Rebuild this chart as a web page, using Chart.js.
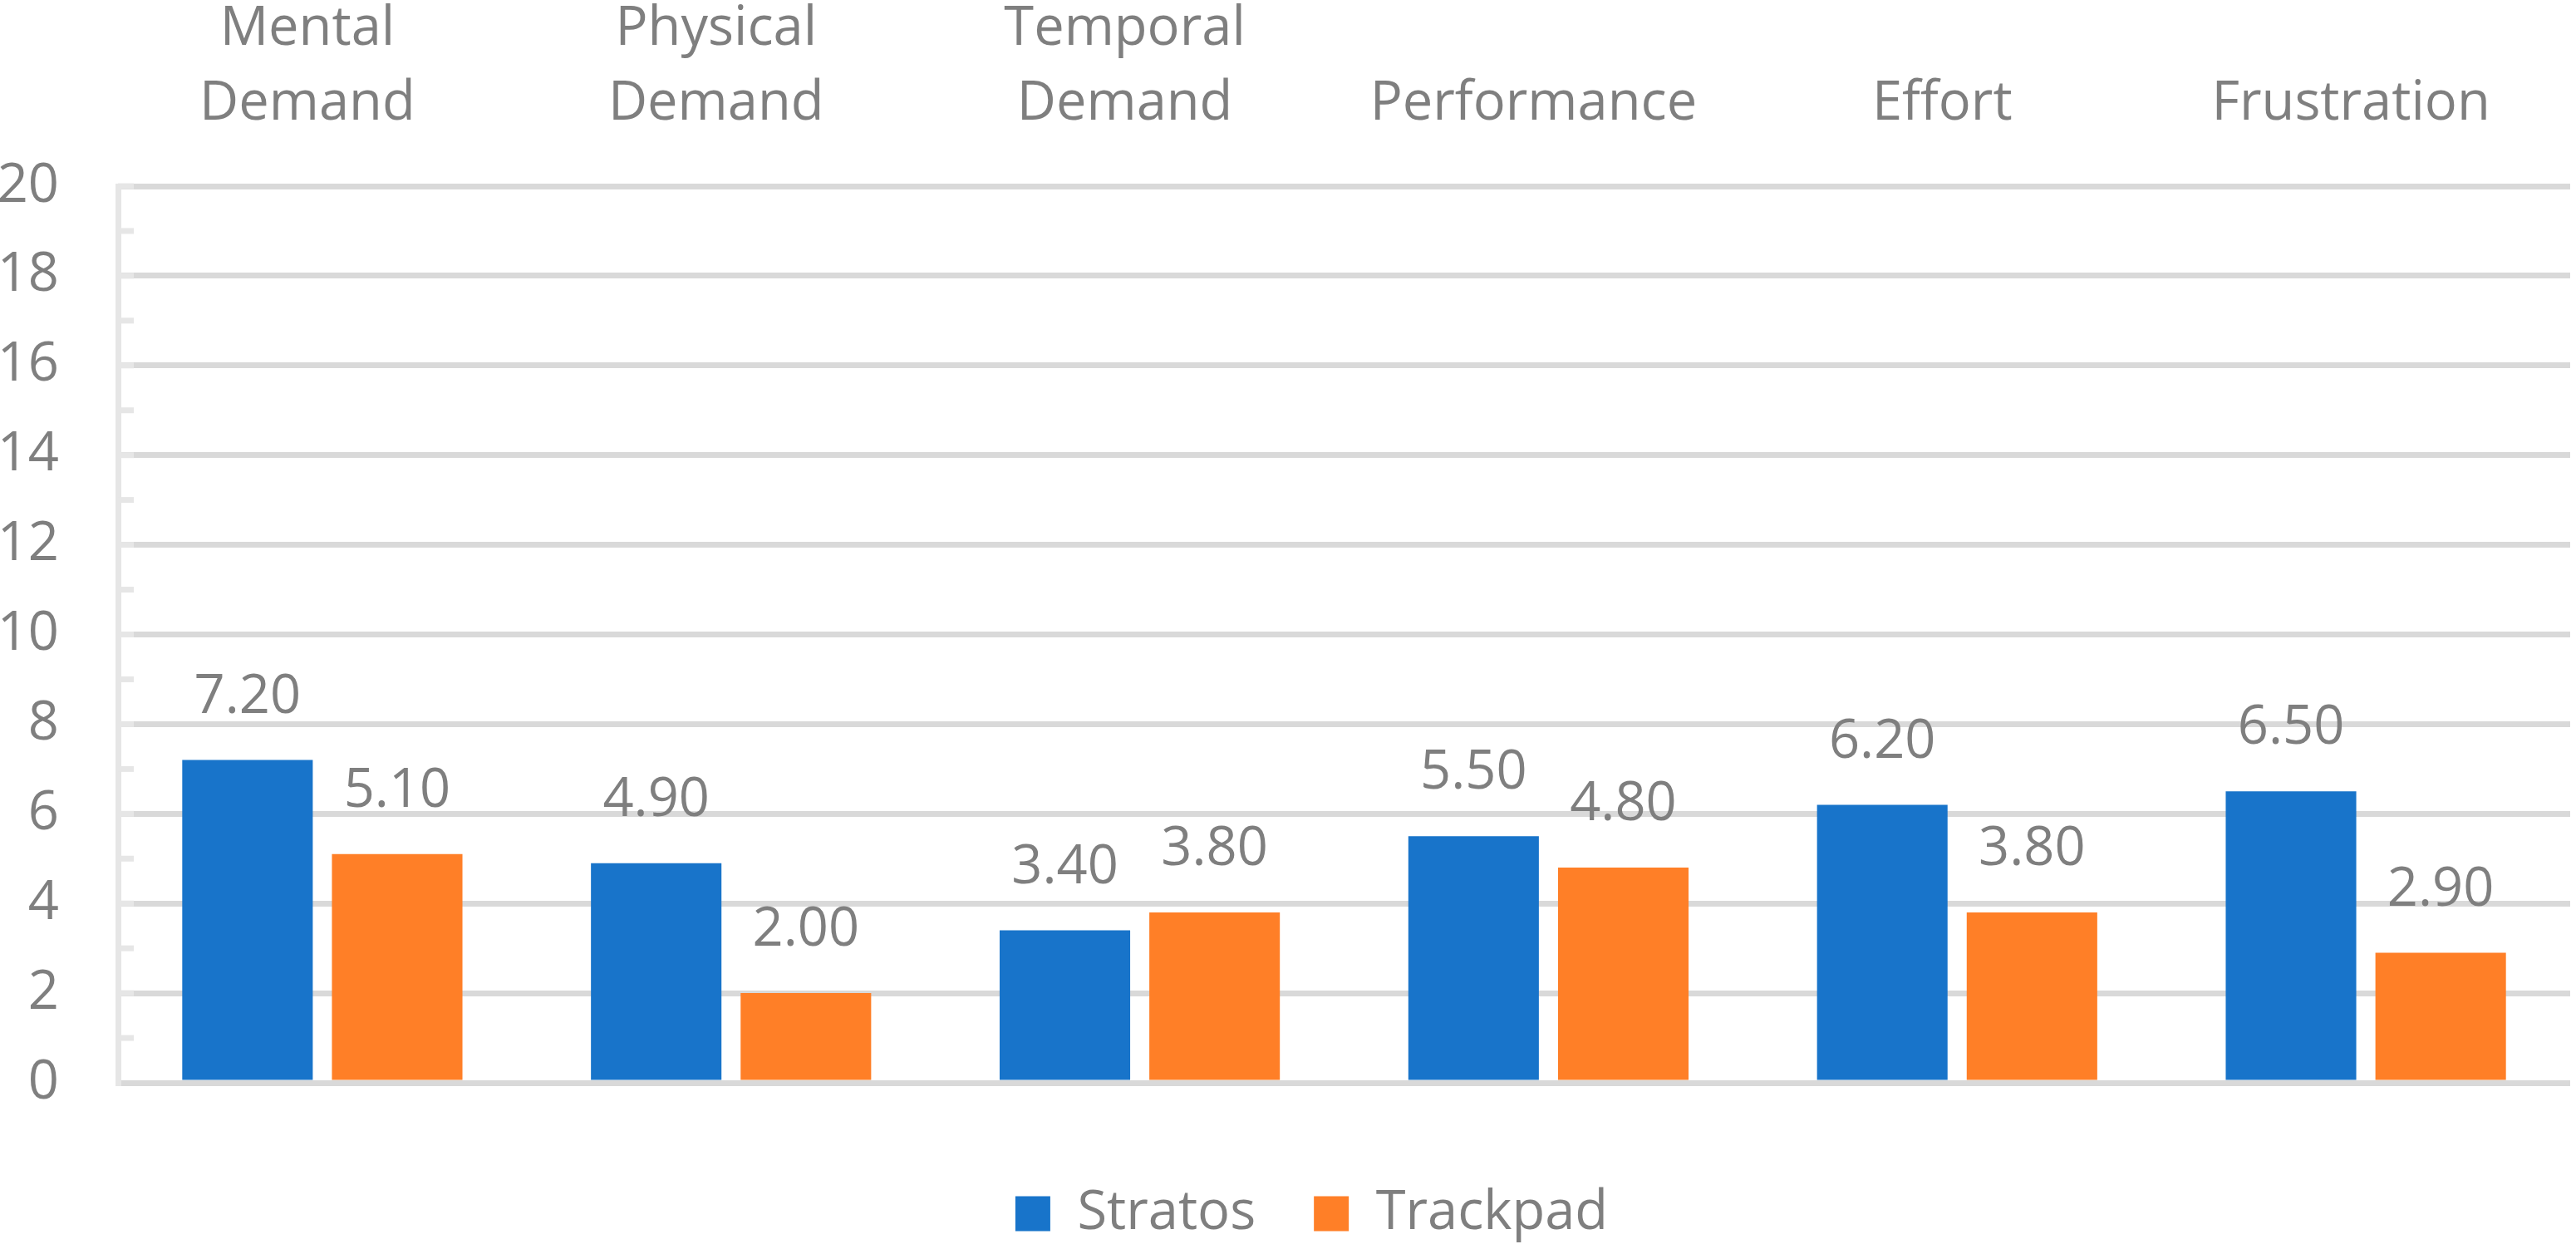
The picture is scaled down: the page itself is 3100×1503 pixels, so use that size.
<!DOCTYPE html>
<html>
<head>
<meta charset="utf-8">
<script src="https://cdn.jsdelivr.net/npm/chart.js@4.4.1/dist/chart.umd.min.js"></script>
<style>
  html, body { margin: 0; padding: 0; background: #ffffff; }
  #wrap { width: 3100px; height: 1503px; position: relative; }
</style>
</head>
<body>
<div id="wrap"><canvas id="barChart"></canvas></div>
<script>
// chart data
const categories = [['Mental', 'Demand'], ['Physical', 'Demand'], ['Temporal', 'Demand'], 'Performance', 'Effort', 'Frustration'];
const seriesNames = ['Stratos', 'Trackpad'];
const stratosValues = [7.2, 4.9, 3.4, 5.5, 6.2, 6.5];
const trackpadValues = [5.1, 2.0, 3.8, 4.8, 3.8, 2.9];
const yTicks = [0, 2, 4, 6, 8, 10, 12, 14, 16, 18, 20];

const textGrey = '#7f7f7f';
const fontFamily = "'Open Sans', 'Noto Sans', sans-serif";
const fontSize = 65;
const legendShift = 32;

// value labels above each bar
const valueLabels = {
    id: 'valueLabels',
    afterDatasetsDraw(chart) {
        const ctx = chart.ctx;
        ctx.save();
        ctx.font = `${fontSize}px ${fontFamily}`;
        ctx.fillStyle = textGrey;
        ctx.textAlign = 'center';
        ctx.textBaseline = 'alphabetic';
        chart.data.datasets.forEach((ds, i) => {
            chart.getDatasetMeta(i).data.forEach((bar, j) => {
                ctx.fillText(ds.data[j].toFixed(2), bar.x, bar.y - 57);
            });
        });
        ctx.restore();
    }
};

// small inside tick marks on the value axis
const innerTicks = {
    id: 'innerTicks',
    beforeDatasetsDraw(chart) {
        const ctx = chart.ctx;
        const y = chart.scales.y;
        const left = chart.chartArea.left;
        ctx.save();
        ctx.strokeStyle = '#e6e6e6';
        ctx.lineWidth = 7;
        for (let v = 1; v <= yTicks[yTicks.length - 1]; v++) {
            const py = y.getPixelForValue(v);
            ctx.beginPath();
            ctx.moveTo(left, py);
            ctx.lineTo(left + 19, py);
            ctx.stroke();
        }
        ctx.restore();
    }
};

// nudge the legend sideways
const legendNudge = {
    id: 'legendNudge',
    afterLayout(chart) {
        chart.legend.left += legendShift;
        chart.legend.right += legendShift;
    }
};

const ctx = document.getElementById('barChart').getContext('2d');
new Chart(ctx, {
    type: 'bar',
    data: {
        labels: categories,
        datasets: [{
            label: seriesNames[0],
            data: stratosValues,
            backgroundColor: '#1874ca',
            xAxisID: 'x',
            categoryPercentage: 0.7325,
            barPercentage: 0.872
        }, {
            label: seriesNames[1],
            data: trackpadValues,
            backgroundColor: '#ff7f27',
            xAxisID: 'x',
            categoryPercentage: 0.7325,
            barPercentage: 0.872
        }]
    },
    options: {
        responsive: true,
        maintainAspectRatio: false,
        devicePixelRatio: 1,
        animation: false,
        layout: { padding: { left: 0, right: 7, top: 0, bottom: 0 } },
        plugins: {
            tooltip: { enabled: false },
            legend: {
                position: 'bottom',
                labels: {
                    boxWidth: 42,
                    boxHeight: 42,
                    padding: 70,
                    color: textGrey,
                    font: { family: fontFamily, size: fontSize }
                }
            }
        },
        scales: {
            x: {
                position: 'top',
                grid: { display: false, drawTicks: false },
                border: { display: false },
                ticks: {
                    color: textGrey,
                    padding: 54,
                    labelOffset: -18,
                    maxRotation: 0,
                    autoSkip: false,
                    font: { family: fontFamily, size: fontSize, lineHeight: 90 / 65 }
                },
                afterFit(scale) { scale.height = 224; }
            },
            pad: {
                type: 'linear',
                axis: 'x',
                position: 'bottom',
                display: true,
                grid: { display: false, drawTicks: false },
                border: { display: false },
                ticks: { display: false },
                afterFit(scale) { scale.height = 55; }
            },
            y: {
                min: yTicks[0],
                max: yTicks[yTicks.length - 1],
                afterBuildTicks(scale) { scale.ticks = yTicks.map(v => ({ value: v })); },
                grid: { color: '#d9d9d9', lineWidth: 7, drawTicks: false },
                border: { display: true, color: '#e6e6e6', width: 7 },
                ticks: {
                    color: textGrey,
                    padding: 71,
                    font: { family: fontFamily, size: fontSize }
                },
                afterFit(scale) { scale.width = 142; }
            }
        }
    },
    plugins: [innerTicks, valueLabels, legendNudge]
});
</script>
</body>
</html>
